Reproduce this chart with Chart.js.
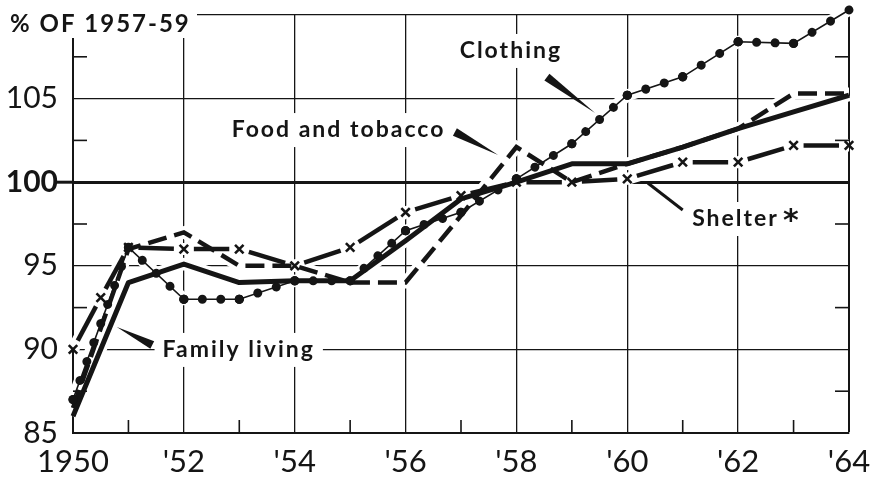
<!DOCTYPE html>
<html><head><meta charset="utf-8">
<script src="https://cdn.jsdelivr.net/npm/chart.js@4.4.1/dist/chart.umd.min.js"></script>
<style>html,body{margin:0;padding:0;background:#fff;overflow:hidden}canvas{display:block}</style>
</head><body>
<canvas id="c" width="872" height="478"></canvas>
<script>
// ---- data ----
const years = [1950,1951,1952,1953,1954,1955,1956,1957,1958,1959,1960,1961,1962,1963,1964];
const familyLiving = [86.0, 94.0, 95.1, 94.0, 94.1, 94.1, 96.5, 99.0, 100.0, 101.1, 101.1, 102.1, 103.2, 104.2, 105.2];
const foodTobacco  = [86.5, 96.0, 97.0, 95.0, 95.0, 94.0, 94.0, 98.0, 102.1, 100.0, 101.1, 102.1, 103.2, 105.3, 105.3];
const clothing     = [87.0, 96.1, 93.0, 93.0, 94.1, 94.1, 97.1, 98.2, 100.2, 102.3, 105.2, 106.3, 108.4, 108.3, 110.3];
const shelterYears = [1950,1950.5,1951,1952,1953,1954,1955,1956,1957,1958,1959,1960,1961,1962,1963,1964];
const shelter      = [90.0, 93.1, 96.1, 96.0, 96.0, 95.0, 96.1, 98.2, 99.2, 100.0, 100.0, 100.2, 101.2, 101.2, 102.2, 102.2];
const minorYValues = [87.5, 92.5, 97.5, 102.5, 107.5];
const minorXYears  = [1951, 1953, 1955, 1957, 1959, 1961, 1963];
const titleText = '% OF 1957-59';
const seriesLabels = ['Clothing', 'Food and tobacco', 'Family living', 'Shelter'];

const ink = '#151515';
const pts = (xs, vs) => xs.map((x, i) => ({x: x, y: vs[i]}));
const segLen = c => Math.hypot(c.p1.x - c.p0.x, c.p1.y - c.p0.y);
const parity = c => (c.p0DataIndex % 2) * 0.001;
const clothingDots = c => { const L = segLen(c); const n = Math.max(1, Math.round(L / 19.5)); return [0.01, L / n - 0.01]; };
const shelterDash = c => { const L = segLen(c); const g = 10; return L > 2 * g + 4 ? [0, g, L - 2 * g, 2000] : [0, 2000]; };

const halo = (xs, vs) => ({data: pts(xs, vs), borderColor: '#fff', borderWidth: 12, pointRadius: 0, clip: false, borderCapStyle: 'butt'});

const datasets = [
  {label: seriesLabels[0], data: pts(years, clothing), borderColor: ink, borderWidth: 9, borderCapStyle: 'round',
   pointRadius: 4.6, pointBackgroundColor: ink, pointBorderWidth: 0,
   segment: {borderDash: clothingDots, borderDashOffset: parity}, clip: false},
  {label: seriesLabels[0], data: pts(years, clothing), borderColor: ink, borderWidth: 1.6, pointRadius: 0, clip: false},
  {label: seriesLabels[2], data: pts(years, familyLiving), borderColor: ink, borderWidth: 5, borderJoinStyle: 'round', pointRadius: 0, clip: false},
  {label: seriesLabels[1], data: pts(years, foodTobacco), borderColor: ink, borderWidth: 4.5, borderDash: [19, 8], pointRadius: 0, clip: false},
  {label: seriesLabels[3], data: pts(shelterYears, shelter), borderColor: ink, borderWidth: 4.5,
   pointStyle: 'crossRot', pointRadius: 6, pointBorderWidth: 2.6, pointBorderColor: ink, pointBackgroundColor: ink,
   segment: {borderDash: shelterDash, borderDashOffset: parity}, clip: false},
  halo(years, clothing), halo(years, familyLiving), halo(years, foodTobacco), halo(shelterYears, shelter)
];

// annotation placement in data units
const notes = [
  {text: 'Clothing', x: 1957.90, y: 107.43, align: 'center'},
  {text: 'Food and tobacco', x: 1954.79, y: 102.70, align: 'center'},
  {text: 'Family living', x: 1952.99, y: 89.55, align: 'center'},
  {text: 'Shelter', x: 1961.17, y: 97.38, align: 'left', star: true}
];
const wedges = [
  {from: [1958.55, 106.29], to: [1959.42, 104.14]},
  {from: [1956.89, 103.00], to: [1957.67, 101.63]},
  {from: [1951.43, 90.26], to: [1950.79, 91.34]}
];
const leader = {from: [1960.37, 99.95], to: [1961.00, 98.34]};

const decor = {
  id: 'decor',
  afterDatasetsDraw(chart) {
    const ctx = chart.ctx, xs = chart.scales.x, ys = chart.scales.y;
    const X = v => xs.getPixelForValue(v), Y = v => ys.getPixelForValue(v);
    const line = (a, b, c, d) => { ctx.beginPath(); ctx.moveTo(a, b); ctx.lineTo(c, d); ctx.stroke(); };
    ctx.save();
    ctx.strokeStyle = ink; ctx.fillStyle = ink; ctx.lineCap = 'butt';
    ctx.lineWidth = 1.6;
    minorYValues.forEach(v => { line(X(1950), Y(v), X(1950) + 14, Y(v)); line(X(1964), Y(v), X(1964) - 14, Y(v)); });
    minorXYears.forEach(v => line(X(v), Y(85), X(v), Y(85) - 13));
    ctx.lineWidth = 3;
    line(X(1950) - 16, Y(100), X(1950), Y(100));

    // labels with white backing
    ctx.font = 'bold 23px Lato';
    if ('letterSpacing' in ctx) ctx.letterSpacing = '2px';
    ctx.textBaseline = 'alphabetic';
    notes.forEach(n => {
      const w = ctx.measureText(n.text).width;
      const bx = n.align === 'center' ? X(n.x) - w / 2 : X(n.x);
      const by = Y(n.y);
      const extra = n.star ? 26 : 0;
      ctx.fillStyle = '#fff';
      ctx.fillRect(bx - 8, by - 24, w + 16 + extra, 34);
      ctx.fillStyle = ink;
      ctx.textAlign = 'left';
      ctx.fillText(n.text, bx, by);
      if (n.star) {
        ctx.save();
        if ('letterSpacing' in ctx) ctx.letterSpacing = '0px';
        ctx.font = 'bold 30px "DejaVu Sans"';
        ctx.fillText('*', bx + w + 4, by + 4);
        ctx.restore();
      }
    });

    // wedges
    wedges.forEach(wd => {
      const x0 = X(wd.from[0]), y0 = Y(wd.from[1]), x1 = X(wd.to[0]), y1 = Y(wd.to[1]);
      const dx = x1 - x0, dy = y1 - y0, L = Math.hypot(dx, dy);
      const nx = -dy / L * 4.2, ny = dx / L * 4.2;
      ctx.beginPath();
      ctx.moveTo(x0 + nx, y0 + ny); ctx.lineTo(x0 - nx, y0 - ny); ctx.lineTo(x1, y1); ctx.closePath();
      ctx.fill();
    });
    ctx.lineWidth = 3;
    line(X(leader.from[0]), Y(leader.from[1]), X(leader.to[0]), Y(leader.to[1]));

    // title
    ctx.fillStyle = '#fff';
    ctx.fillRect(0, 0, 197, 38);
    ctx.fillStyle = ink;
    ctx.font = 'bold 24px Lato';
    if ('letterSpacing' in ctx) ctx.letterSpacing = '2px';
    ctx.textAlign = 'left';
    ctx.fillText(titleText, 10, 32);
    ctx.restore();
  }
};

new Chart(document.getElementById('c'), {
  type: 'line',
  data: {datasets: datasets},
  options: {
    responsive: false, animation: false, devicePixelRatio: 1, events: [],
    layout: {padding: {left: 0, right: 23, top: 15, bottom: 0}},
    plugins: {legend: {display: false}, tooltip: {enabled: false}, title: {display: false}},
    scales: {
      x: {
        type: 'linear', min: 1950, max: 1964,
        afterFit(s) { s.height = 45; s.paddingLeft = 0; s.paddingRight = 0; },
        grid: {color: ink, lineWidth: c => (c.tick && c.tick.value === 1964) ? 2 : 1.3, drawTicks: false},
        border: {display: true, color: ink, width: 2},
        ticks: {stepSize: 2, color: ink, padding: 10, maxRotation: 0, autoSkip: false,
          font: {family: 'Lato', size: 31},
          callback: v => v === 1950 ? '1950' : "'" + String(v - 1900)}
      },
      y: {
        min: 85, max: 110,
        afterFit(s) { s.width = 73; s.paddingTop = 0; s.paddingBottom = 0; },
        grid: {color: ink, lineWidth: c => (c.tick && c.tick.value === 100) ? 3 : 1.3, drawTicks: false},
        border: {display: true, color: ink, width: 2},
        ticks: {stepSize: 5, color: ink, padding: 15,
          font: c => ({family: 'Lato', size: 30, weight: (c.tick && c.tick.value === 100) ? 'bold' : 'normal'}),
          callback: v => v === 110 ? '' : String(v)}
      }
    }
  },
  plugins: [decor]
});
</script>
</body></html>
